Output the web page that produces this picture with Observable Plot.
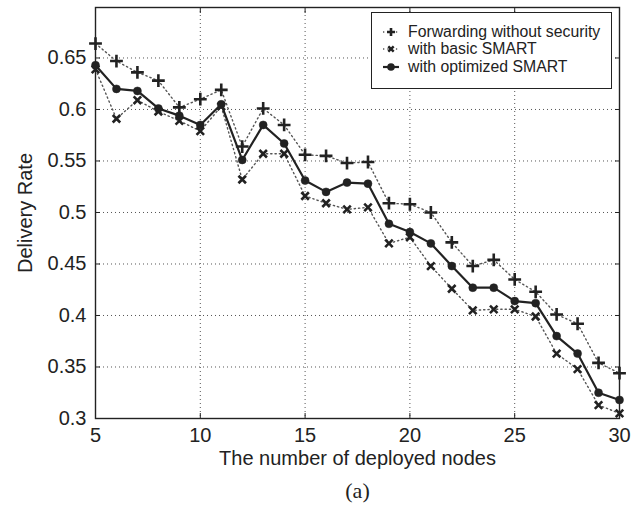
<!DOCTYPE html>
<html>
<head>
<meta charset="utf-8">
<script src="https://cdn.jsdelivr.net/npm/d3@7"></script>
<script src="https://cdn.jsdelivr.net/npm/@observablehq/plot@0.6"></script>
<style>
  html, body { margin: 0; padding: 0; background: #fff; }
  #wrap { position: relative; width: 641px; height: 509px; }
  #legend {
    position: absolute; left: 371px; top: 12px; width: 241px; height: 77px;
    border: 1.3px solid #222; background: #fff; box-sizing: border-box;
    font-family: "Liberation Sans", Arial, sans-serif; font-size: 15.8px; color: #222;
    padding-top: 10px;
  }
  .row { display: flex; align-items: center; height: 17.5px; }
  .row svg { margin-left: 10px; margin-right: 8px; flex: none; }
</style>
</head>
<body>
<div id="wrap"></div>
<script>
// ---- data ----
const nodes = [5, 6, 7, 8, 9, 10, 11, 12, 13, 14, 15, 16, 17, 18, 19, 20, 21, 22, 23, 24, 25, 26, 27, 28, 29, 30];
const forwarding = [0.664, 0.647, 0.636, 0.628, 0.602, 0.610, 0.619, 0.564, 0.601, 0.585, 0.556, 0.555, 0.548, 0.549, 0.509, 0.508, 0.500, 0.471, 0.448, 0.454, 0.435, 0.423, 0.401, 0.392, 0.354, 0.344];
const basic = [0.639, 0.591, 0.609, 0.598, 0.589, 0.579, 0.603, 0.532, 0.557, 0.557, 0.516, 0.509, 0.503, 0.505, 0.470, 0.476, 0.448, 0.426, 0.405, 0.406, 0.406, 0.399, 0.363, 0.348, 0.313, 0.305];
const optimized = [0.643, 0.620, 0.618, 0.601, 0.594, 0.585, 0.605, 0.551, 0.585, 0.567, 0.531, 0.520, 0.529, 0.528, 0.489, 0.481, 0.470, 0.448, 0.427, 0.427, 0.414, 0.412, 0.380, 0.363, 0.325, 0.318];
const seriesNames = ["Forwarding without security", "with basic SMART", "with optimized SMART"];
const xTicks = [5, 10, 15, 20, 25, 30];
const yTicks = [0.3, 0.35, 0.4, 0.45, 0.5, 0.55, 0.6, 0.65];
const xLabel = "The number of deployed nodes";
const yLabel = "Delivery Rate";
const caption = "(a)";

const toRows = (vals) => nodes.map((n, i) => ({n, v: vals[i]}));
const fwd = toRows(forwarding), bas = toRows(basic), opt = toRows(optimized);
const ink = "#222";
const dotted = "#555";

const chart = Plot.plot({
  width: 641, height: 509,
  marginTop: 7, marginRight: 22, marginBottom: 91, marginLeft: 95,
  style: {fontFamily: "'Liberation Sans', Arial, sans-serif", fontSize: "20px", color: ink, background: "#fff", overflow: "visible"},
  x: {domain: [5, 30]},
  y: {domain: [0.3, 0.699]},
  marks: [
    Plot.gridX(xTicks.slice(1, -1), {stroke: "#444", strokeOpacity: 0.9, strokeDasharray: "1,3", strokeWidth: 1}),
    Plot.gridY(yTicks.slice(1), {stroke: "#444", strokeOpacity: 0.9, strokeDasharray: "1,3", strokeWidth: 1}),
    Plot.frame({stroke: ink, strokeWidth: 1.4}),
    Plot.axisX(xTicks, {anchor: "bottom", tickSize: -5, tickPadding: 14, tickFormat: d => String(d),
      label: xLabel, labelAnchor: "center", labelArrow: "none", labelOffset: 46, fontSize: 20}),
    Plot.axisX(xTicks, {anchor: "top", tickSize: -5, tickFormat: () => "", label: null}),
    Plot.axisY(yTicks, {anchor: "left", tickSize: -5, tickPadding: 14, tickFormat: d => String(d),
      label: yLabel, labelAnchor: "center", labelArrow: "none", labelOffset: 78, fontSize: 20}),
    Plot.axisY(yTicks, {anchor: "right", tickSize: -5, tickFormat: () => "", label: null}),
    Plot.line(fwd, {x: "n", y: "v", stroke: dotted, strokeWidth: 1.4, strokeDasharray: "1.3,3"}),
    Plot.line(bas, {x: "n", y: "v", stroke: dotted, strokeWidth: 1.4, strokeDasharray: "1.3,3"}),
    Plot.line(opt, {x: "n", y: "v", stroke: ink, strokeWidth: 2.2}),
    Plot.dot(fwd, {x: "n", y: "v", symbol: "plus", r: 4.2, stroke: ink, strokeWidth: 2.6}),
    Plot.dot(bas, {x: "n", y: "v", symbol: "times", r: 3.5, stroke: ink, strokeWidth: 2.6}),
    Plot.dot(opt, {x: "n", y: "v", r: 4, fill: ink, stroke: ink, strokeWidth: 0.5}),
    Plot.text([caption], {frameAnchor: "bottom", dy: 79, fontFamily: "'Liberation Serif', 'Times New Roman', serif", fontSize: 22, fill: ink})
  ]
});

const wrap = document.getElementById("wrap");
wrap.appendChild(chart);

// legend (inside plot area, top-right)
const legend = document.createElement("div");
legend.id = "legend";
const sym = [
  `<line x1="1" y1="7" x2="17" y2="7" stroke="${dotted}" stroke-width="1.4" stroke-dasharray="1.3,3"/><path d="M9,3V11M5,7H13" stroke="${ink}" stroke-width="2.6"/>`,
  `<line x1="1" y1="7" x2="17" y2="7" stroke="${dotted}" stroke-width="1.4" stroke-dasharray="1.3,3"/><path d="M6.3,4.3L11.7,9.7M11.7,4.3L6.3,9.7" stroke="${ink}" stroke-width="2.4"/>`,
  `<line x1="1" y1="7" x2="17" y2="7" stroke="${ink}" stroke-width="2.2"/><circle cx="9" cy="7" r="3.8" fill="${ink}"/>`
];
seriesNames.forEach((name, i) => {
  const row = document.createElement("div");
  row.className = "row";
  row.innerHTML = `<svg width="18" height="14">${sym[i]}</svg><span>${name}</span>`;
  legend.appendChild(row);
});
wrap.appendChild(legend);
</script>
</body>
</html>
